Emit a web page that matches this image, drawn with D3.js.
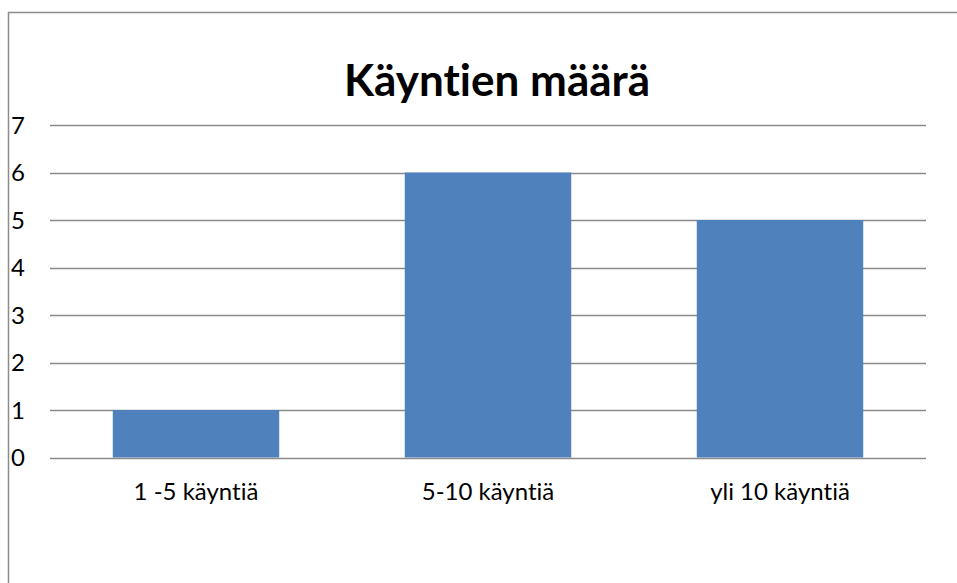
<!DOCTYPE html>
<html>
<head>
<meta charset="utf-8">
<script src="https://cdn.jsdelivr.net/npm/d3@7"></script>
<style>
  body { margin: 0; background: #fff; }
  svg { display: block; }
  text { font-variant-ligatures: none; }
</style>
</head>
<body>
<svg id="chart" width="957" height="583"></svg>
<script>
const categories = ['1 -5 käyntiä', '5-10 käyntiä', 'yli 10 käyntiä']
const values = [1, 6, 5]
const yTicks = [0, 1, 2, 3, 4, 5, 6, 7]
const title = 'Käyntien määrä'

const width = 957
const height = 583
const margin = { top: 125, right: 31, bottom: 125.5, left: 50 }
const font = 'Lato, "Open Sans", sans-serif'

const svg = d3.select('#chart')

// outer chart frame (cut off on the right and bottom)
svg.append('path')
  .attr('d', `M8.5,${height + 2} V12.5 H${width + 2}`)
  .attr('fill', 'none')
  .attr('stroke', '#8c8c8c')
  .attr('stroke-width', 1.5)

const x = d3.scaleBand()
  .domain(categories)
  .range([margin.left, width - margin.right])
  .paddingInner(0.43)
  .paddingOuter(0.215)

const y = d3.scaleLinear()
  .domain([0, 7])
  .range([height - margin.bottom, margin.top])

// gridlines
svg.append('g')
  .selectAll('line')
  .data(yTicks)
  .join('line')
  .attr('x1', margin.left)
  .attr('x2', width - margin.right)
  .attr('y1', d => Math.round(y(d)) + 0.5)
  .attr('y2', d => Math.round(y(d)) + 0.5)
  .attr('stroke', '#8a8a8a')
  .attr('stroke-width', 1.4)

// bars
svg.append('g')
  .selectAll('rect')
  .data(values)
  .join('rect')
  .attr('x', (d, i) => x(categories[i]))
  .attr('width', x.bandwidth())
  .attr('y', d => y(d))
  .attr('height', d => y(0) - y(d))
  .attr('fill', '#4f81bd')

// y labels
svg.append('g')
  .selectAll('text')
  .data(yTicks)
  .join('text')
  .attr('x', 11)
  .attr('y', d => y(d))
  .attr('dy', '0.36em')
  .attr('font-family', font)
  .attr('font-size', 24)
  .attr('fill', '#000')
  .text(d => d)

// category labels
svg.append('g')
  .selectAll('text')
  .data(categories)
  .join('text')
  .attr('x', d => x(d) + x.bandwidth() / 2)
  .attr('y', 500)
  .attr('text-anchor', 'middle')
  .attr('font-family', font)
  .attr('font-size', 24)
  .attr('fill', '#000')
  .text(d => d)

svg.append('text')
  .attr('x', 497)
  .attr('y', 96)
  .attr('text-anchor', 'middle')
  .attr('font-family', font)
  .attr('font-weight', 'bold')
  .attr('font-size', 44)
  .attr('fill', '#000')
  .text(title)
</script>
</body>
</html>
